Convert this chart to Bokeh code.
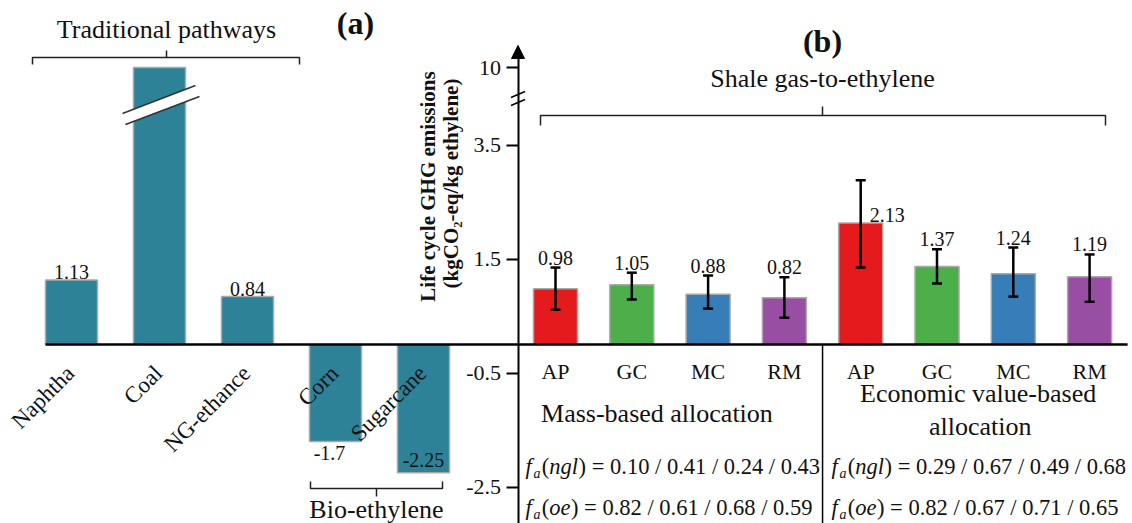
import math
from bokeh.plotting import figure
from bokeh.models import (ColumnDataSource, LinearAxis, FixedTicker, Range1d,
                          Whisker, TeeHead, Arrow, NormalHead)
from bokeh.core.properties import value
from bokeh.embed import file_html
from bokeh.resources import INLINE

# ---------------- data ----------------
trad_names = ["Naphtha", "Coal", "NG-ethance", "Corn", "Sugarcane"]
trad_values = [1.13, 10.0, 0.84, -1.7, -2.25]
trad_labels = ["1.13", "", "0.84", "-1.7", "-2.25"]

shale_cats = ["AP", "GC", "MC", "RM", "AP", "GC", "MC", "RM"]
shale_values = [0.98, 1.05, 0.88, 0.82, 2.13, 1.37, 1.24, 1.19]
shale_upper = [1.35, 1.26, 1.21, 1.18, 2.88, 1.67, 1.70, 1.58]
shale_lower = [0.61, 0.79, 0.63, 0.47, 1.35, 1.07, 0.84, 0.75]
shale_labels = ["0.98", "1.05", "0.88", "0.82", "2.13", "1.37", "1.24", "1.19"]

y_ticks = [-2.5, -0.5, 1.5, 3.5, 10]
y_tick_labels = ["-2.5", "-0.5", "1.5", "3.5", "10"]

fa_ngl_mass = ["0.10", "0.41", "0.24", "0.43"]
fa_oe_mass = ["0.82", "0.61", "0.68", "0.59"]
fa_ngl_econ = ["0.29", "0.67", "0.49", "0.68"]
fa_oe_econ = ["0.82", "0.67", "0.71", "0.65"]

# ---------------- style / layout ----------------
W, H = 1132, 523
Y0 = 344.0          # pixel row of zero
PX = 57.0           # pixels per unit
BREAK = 4.0
COMP = 0.143
FONT_NAME = "'Liberation Serif', 'Times New Roman', Times, serif"
FONT = value(FONT_NAME)
TEAL = "#2e8298"
SET1 = ["#e41a1c", "#4daf4a", "#377eb8", "#984ea3"]
OUTLINE = "#a9a9a9"
AX_X = 517.5
L_X0, L_STEP, L_W = 71.0, 88.0, 52.0
R_X0, R_STEP, R_W = 555.0, 76.3, 44.0


def brk(v):
    return v if v <= BREAK else BREAK + (v - BREAK) * COMP


def py(p):  # pixel row -> data y
    return (Y0 - p) / PX


p = figure(width=W, height=H, x_range=Range1d(0, W),
           y_range=Range1d(py(H), py(0)), x_axis_type=None, y_axis_type=None,
           toolbar_location=None, output_backend="svg", min_border=0,
           outline_line_color=None, background_fill_color="white")

# ---------------- panel (a) bars ----------------
lx = [L_X0 + i * L_STEP for i in range(len(trad_names))]
src_a = ColumnDataSource(dict(x=lx, top=[brk(v) for v in trad_values],
                              name=trad_names))
p.vbar(x="x", top="top", bottom=0, width=L_W, source=src_a,
       fill_color=TEAL, line_color=OUTLINE, line_width=1.5)

# coal axis break on the bar
ci = trad_names.index("Coal")
cx = lx[ci]
yb = 104.0
l1 = [(cx - 37, yb + 9), (cx + 36, yb - 19)]
l2 = [(cx - 34, yb + 20), (cx + 40, yb - 8)]
p.patch([l1[0][0], l1[1][0], l2[1][0], l2[0][0]],
        [py(l1[0][1]), py(l1[1][1]), py(l2[1][1]), py(l2[0][1])],
        fill_color="white", line_color=None)
p.multi_line([[l1[0][0], l1[1][0]], [l2[0][0], l2[1][0]]],
             [[py(l1[0][1]), py(l1[1][1])], [py(l2[0][1]), py(l2[1][1])]],
             line_color="#333333", line_width=1.5)

# value labels of panel (a)
ab_x, ab_y, ab_t = [], [], []
for i, (v, t) in enumerate(zip(trad_values, trad_labels)):
    if t and v > 0:
        ab_x.append(lx[i]); ab_y.append(brk(v)); ab_t.append(t)
p.text(x=ab_x, y=ab_y, text=ab_t, text_font=FONT, text_font_size=value("20px"),
       text_align="center", text_baseline="bottom", y_offset=-1, text_color="#111111")
ci = trad_names.index("Corn")
p.text(x=[lx[ci] - 6], y=[trad_values[ci]], text=[trad_labels[ci]], text_font=FONT,
       text_font_size=value("20px"), text_align="center", text_baseline="top",
       y_offset=5, text_color="#111111")
si = trad_names.index("Sugarcane")
p.text(x=[lx[si]], y=[trad_values[si]], text=[trad_labels[si]], text_font=FONT,
       text_font_size=value("20px"), text_align="center", text_baseline="bottom",
       y_offset=-6, text_color="#111111")

# rotated category labels
p.text(x=[x - 1 for x in lx], y=[0] * len(lx), text=trad_names, text_font=FONT,
       text_font_size=value("23px"), text_align="right", text_baseline="middle",
       angle=math.pi / 4, y_offset=25, text_color="#111111")

# ---------------- panel (b) bars ----------------
rx = [R_X0 + i * R_STEP for i in range(len(shale_cats))]
colors = [SET1[i % 4] for i in range(len(shale_cats))]
src_b = ColumnDataSource(dict(x=rx, top=shale_values, upper=shale_upper,
                              lower=shale_lower, color=colors, cat=shale_cats,
                              lab=shale_labels))
p.vbar(x="x", top="top", bottom=0, width=R_W, source=src_b,
       fill_color="color", line_color=OUTLINE, line_width=1.5)
wh = Whisker(base="x", upper="upper", lower="lower", source=src_b,
             line_width=2.5, line_color="black", level="overlay",
             upper_head=TeeHead(size=10, line_width=2.5, line_color="black"),
             lower_head=TeeHead(size=10, line_width=2.5, line_color="black"))
p.add_layout(wh)

# value labels above whiskers (the tallest one sits beside its whisker)
big = shale_values.index(max(shale_values))
nx = [x for i, x in enumerate(rx) if i != big]
ny = [u for i, u in enumerate(shale_upper) if i != big]
nt = [t for i, t in enumerate(shale_labels) if i != big]
p.text(x=nx, y=ny, text=nt, text_font=FONT, text_font_size=value("20px"),
       text_align="center", text_baseline="bottom", y_offset=-3, text_color="#111111")
p.text(x=[rx[big]], y=[shale_values[big]], text=[shale_labels[big]], text_font=FONT,
       text_font_size=value("20px"), text_align="left", text_baseline="bottom",
       x_offset=9, y_offset=-1, text_color="#111111")

p.text(x=rx, y=[0] * len(rx), text=shale_cats, text_font=FONT,
       text_font_size=value("22px"), text_align="center", text_baseline="middle",
       y_offset=27, text_color="#111111")

# ---------------- baseline, divider, axis ----------------
p.segment(x0=[lx[0] - L_W / 2], y0=[0], x1=[rx[-1] + R_W / 2 + 16], y1=[0],
          line_color="black", line_width=2.5)
div_x = (rx[3] + rx[4]) / 2
p.segment(x0=[div_x], y0=[0], x1=[div_x], y1=[py(H)], line_color="black",
          line_width=1.5)

ticks = [brk(t) for t in y_ticks]
yax = LinearAxis(fixed_location=AX_X, ticker=FixedTicker(ticks=ticks),
                 major_label_overrides={t: l for t, l in zip(ticks, y_tick_labels)},
                 bounds=(py(H), py(56)), axis_line_width=2, axis_line_color="black",
                 major_tick_out=12, major_tick_in=0, major_tick_line_width=2,
                 minor_tick_out=0, minor_tick_in=0,
                 major_label_text_font=FONT_NAME,
                 major_label_text_font_size="22px", major_label_standoff=5,
                 major_label_text_color="#111111")
p.add_layout(yax, "left")
p.add_layout(Arrow(end=NormalHead(size=13, fill_color="black", line_color="black",
                                  line_width=1),
                   x_start=AX_X, y_start=py(58), x_end=AX_X, y_end=py(45),
                   line_width=2, line_color="black"))
# axis break marks
p.segment(x0=[AX_X], y0=[py(93.5)], x1=[AX_X], y1=[py(101.5)], line_color="white",
          line_width=5)
p.multi_line([[AX_X - 7, AX_X + 7], [AX_X - 7, AX_X + 7]],
             [[py(97), py(91)], [py(105), py(99)]], line_color="black", line_width=1.5)

# y axis title (two lines, rotated)
p.text(x=[427, 450], y=[py(186), py(183)],
       text=["Life cycle GHG emissions", "(kgCO\u2082-eq/kg ethylene)"],
       text_font=FONT, text_font_size=value("21px"), text_font_style="bold",
       text_align="center", text_baseline="middle", angle=math.pi / 2,
       text_color="#111111")

# ---------------- brackets ----------------
def bracket(x0, x1, yline, yend, ytip, xtip):
    p.multi_line([[x0, x0, x1, x1], [xtip, xtip]],
                 [[py(yend), py(yline), py(yline), py(yend)], [py(yline), py(ytip)]],
                 line_color="#222222", line_width=1.5)

bracket(32, 299, 57, 64, 50, 166)
bracket(540, 1105, 115, 125, 106, 822)
bracket(310, 442, 488, 481, 496, 376)

# ---------------- texts ----------------
def txt(x, y, s, size, style="normal", align="center"):
    p.text(x=[x], y=[py(y)], text=[s], text_font=FONT, text_font_size=value(size),
           text_font_style=style, text_align=align, text_baseline="middle",
           text_color="#111111")

txt(166, 29, "Traditional pathways", "26px")
txt(355, 22, "(a)", "32px", "bold")
txt(822, 40, "(b)", "32px", "bold")
txt(822, 78, "Shale gas-to-ethylene", "26px")
txt(376, 509, "Bio-ethylene", "26px")
txt((rx[0] + rx[3]) / 2 - 13, 413, "Mass-based allocation", "26px")
txt((rx[4] + rx[7]) / 2 + 3, 393, "Economic value-based", "26px")
txt((rx[4] + rx[7]) / 2 + 5, 426, "allocation", "26px")

# f_a rows composed from pieces
FS = 22.5
def fa_row(x0, yrow, sub, nums):
    itl = "italic"
    p.text(x=[x0], y=[py(yrow)], text=["f"], text_font=FONT,
           text_font_size=value(f"{FS}px"), text_font_style=itl,
           text_align="left", text_baseline="middle", text_color="#111111")
    p.text(x=[x0 + 0.36 * FS], y=[py(yrow + 7)], text=["a"], text_font=FONT,
           text_font_size=value(f"{FS * 0.62:.1f}px"), text_font_style=itl,
           text_align="left", text_baseline="middle", text_color="#111111")
    xp = x0 + 0.36 * FS + 0.36 * FS
    p.text(x=[xp], y=[py(yrow)], text=["("], text_font=FONT,
           text_font_size=value(f"{FS}px"), text_align="left",
           text_baseline="middle", text_color="#111111")
    xs = xp + 0.34 * FS
    p.text(x=[xs], y=[py(yrow)], text=[sub], text_font=FONT,
           text_font_size=value(f"{FS}px"), text_font_style=itl, text_align="left",
           text_baseline="middle", text_color="#111111")
    wsub = {"ngl": 1.30, "oe": 0.96}[sub] * FS
    p.text(x=[xs + wsub], y=[py(yrow)], text=[") = " + " / ".join(nums)],
           text_font=FONT, text_font_size=value(f"{FS}px"), text_align="left",
           text_baseline="middle", text_color="#111111")

fa_row(525, 466, "ngl", fa_ngl_mass)
fa_row(525, 507, "oe", fa_oe_mass)
fa_row(831, 466, "ngl", fa_ngl_econ)
fa_row(831, 507, "oe", fa_oe_econ)

open("out.html", "w").write(file_html(p, INLINE))
